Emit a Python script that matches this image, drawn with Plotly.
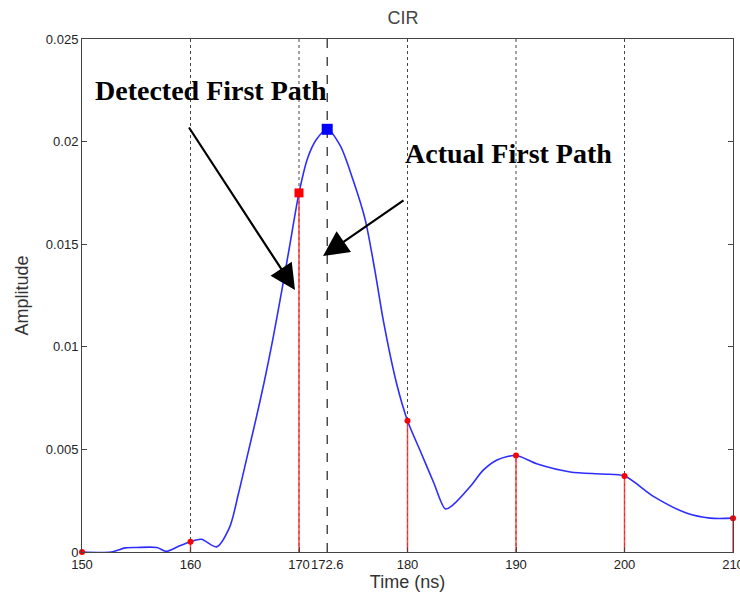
import plotly.graph_objects as go

# ---- data ----
curve_time = [150, 152.7, 154, 155, 156.9, 157.8, 159, 160, 161, 162.4,
              163.6, 164.4, 165.2, 166.0, 166.8, 167.6, 168.4, 169.2, 170.0, 170.8, 171.6,
              172.6, 173.8, 175.0, 176.1, 177.0, 177.8, 179.0, 180, 181.2, 182.4, 183.5,
              184.2, 185.8, 187.0, 188.3, 190, 191.9, 195, 198, 200,
              202.7, 205.7, 207.9, 210]
curve_amp = [0, 0, 0.0002, 0.00022, 0.00022, 0.00003, 0.0003, 0.0005, 0.00062, 0.00025,
             0.0012, 0.0028, 0.0046, 0.0064, 0.0083, 0.0104, 0.0127, 0.0151, 0.0175, 0.0192,
             0.0201, 0.0206, 0.0198, 0.0181, 0.0162, 0.0137, 0.0112, 0.0082, 0.0064, 0.0049,
             0.0034, 0.0021, 0.0023, 0.0032, 0.0040, 0.0045, 0.0047, 0.0043,
             0.0039, 0.0038, 0.0037, 0.0027, 0.0019, 0.00165, 0.00165]

sample_time = [150, 160, 170, 180, 190, 200, 210]
sample_amp = [0, 0.0005, 0.0175, 0.0064, 0.0047, 0.0037, 0.00165]

detected_time = [170]
detected_amp = [0.0175]
peak_time = [172.6]
peak_amp = [0.0206]

grid_times = [160, 170, 180, 190, 200]
x_ticks = [150, 160, 170, 172.6, 180, 190, 200, 210]
x_ticktext = ["150", "160", "170", "172.6", "180", "190", "200", "210"]
y_ticks = [0, 0.005, 0.01, 0.015, 0.02, 0.025]
y_ticktext = ["0", "0.005", "0.01", "0.015", "0.02", "0.025"]

# ---- figure ----
fig = go.Figure()

# dotted vertical grid lines
gx, gy = [], []
for t in grid_times:
    gx += [t, t, None]
    gy += [y_ticks[0], y_ticks[-1], None]
fig.add_trace(go.Scatter(x=gx, y=gy, mode="lines",
                         line=dict(color="#444", width=1, dash="dot"), hoverinfo="skip"))

# dashed line at actual first path
fig.add_trace(go.Scatter(x=[peak_time[0], peak_time[0]], y=[y_ticks[0], y_ticks[-1]],
                         mode="lines", line=dict(color="#222", width=1.2, dash="dash"),
                         hoverinfo="skip"))

# red stems
stem_x, stem_y = [], []
for t, v in zip(sample_time, sample_amp):
    stem_x += [t, t, None]
    stem_y += [0, v, None]
fig.add_trace(go.Scatter(x=stem_x, y=stem_y, mode="lines",
                         line=dict(color="rgba(255,40,40,0.85)", width=1.5),
                         hoverinfo="skip", cliponaxis=False))

# CIR curve
fig.add_trace(go.Scatter(x=curve_time, y=curve_amp, mode="lines",
                         line=dict(color="rgb(45,45,255)", width=1.6, shape="spline",
                                   smoothing=0.8)))

# sample dots
fig.add_trace(go.Scatter(x=sample_time, y=sample_amp, mode="markers",
                         marker=dict(color="red", size=6, symbol="circle"),
                         cliponaxis=False))
# detected first path
fig.add_trace(go.Scatter(x=detected_time, y=detected_amp, mode="markers",
                         marker=dict(color="red", size=9, symbol="square")))
# actual peak
fig.add_trace(go.Scatter(x=peak_time, y=peak_amp, mode="markers",
                         marker=dict(color="blue", size=11, symbol="square")))

tick_font = dict(family="Liberation Sans, Arial, sans-serif", size=13, color="#222")
label_font = dict(family="Liberation Sans, Arial, sans-serif", size=18, color="#333")
serif_bold = dict(family="Liberation Serif, Times New Roman, serif", size=28, color="black")

fig.update_layout(
    width=740, height=601,
    margin=dict(l=82, r=7, t=39, b=49),
    plot_bgcolor="white", paper_bgcolor="white",
    showlegend=False,
    title=dict(text="CIR", x=0.5447, xanchor="center", y=0.97, yanchor="middle",
               font=dict(family="Liberation Sans, Arial, sans-serif", size=18, color="#444")),
    xaxis=dict(range=[150, 210], tickvals=x_ticks, ticktext=x_ticktext, tickangle=0,
               showgrid=False, ticklabeloverflow="allow",
               zeroline=False, showline=True, linecolor="#444", linewidth=1, mirror=True,
               ticks="inside", ticklen=5, tickcolor="#444", tickfont=tick_font,
               title=dict(text="Time (ns)", font=label_font, standoff=2),
               automargin=False),
    yaxis=dict(range=[0, 0.025], tickvals=y_ticks, ticktext=y_ticktext,
               showgrid=False, zeroline=False, showline=True, linecolor="#444",
               linewidth=1, mirror="ticks", ticks="inside", ticklen=5, tickcolor="#444",
               tickfont=tick_font,
               title=dict(text="Amplitude", font=label_font, standoff=12),
               automargin=False),
)

fig.add_annotation(x=151.0, y=0.02251, xref="x", yref="y", text="<b>Detected First Path</b>",
                   showarrow=False, xanchor="left", yanchor="middle", font=serif_bold)
fig.add_annotation(x=179.59, y=0.01944, xref="x", yref="y", text="<b>Actual First Path</b>",
                   showarrow=False, xanchor="left", yanchor="middle", font=serif_bold)

fig.add_annotation(x=169.63, y=0.01277, xref="x", yref="y", ax=159.77, ay=0.02076,
                   axref="x", ayref="y", text="", showarrow=True, arrowhead=2,
                   arrowsize=2.3, arrowwidth=2.2, arrowcolor="black")
fig.add_annotation(x=172.21, y=0.01442, xref="x", yref="y", ax=179.77, ay=0.01719,
                   axref="x", ayref="y", text="", showarrow=True, arrowhead=2,
                   arrowsize=2.3, arrowwidth=2.2, arrowcolor="black")

fig.write_html("out.html", post_script="document.body.style.margin='0';",
               config={"displayModeBar": False})
